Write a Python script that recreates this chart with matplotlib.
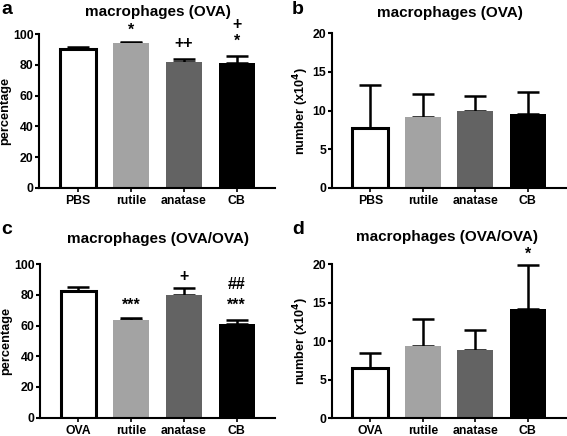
import matplotlib
matplotlib.use('Agg')
import matplotlib.pyplot as plt

plt.rcParams['font.family'] = ['Liberation Sans', 'DejaVu Sans']
plt.rcParams['font.weight'] = 'bold'
plt.rcParams['mathtext.default'] = 'bf'

# data
groups_ab = ['PBS', 'rutile', 'anatase', 'CB']
groups_cd = ['OVA', 'rutile', 'anatase', 'CB']

pct_ova = [90.0, 94.0, 81.5, 81.0]
pct_ova_err = [1.7, 0.5, 2.4, 4.7]
num_ova = [7.7, 9.1, 9.9, 9.5]
num_ova_err = [5.6, 3.0, 2.0, 2.85]

pct_ovaova = [82.8, 63.7, 79.8, 61.1]
pct_ovaova_err = [2.6, 1.5, 5.0, 2.6]
num_ovaova = [6.55, 9.4, 8.9, 14.15]
num_ovaova_err = [1.95, 3.45, 2.55, 5.75]

# significance marks: (bar index, y value, text)
marks_a = [(1, 102.3, '*'), (2, 94.0, '++'), (3, 95.2, '*'), (3, 106.0, '+')]
marks_b = []
marks_c = [(1, 73.5, '***'), (2, 91.7, '+'), (3, 86.5, '##'), (3, 73.5, '***')]
marks_d = [(3, 21.3, '*')]

colors = ['white', '#a3a3a3', '#636363', 'black']
edges = ['black', '#a3a3a3', '#636363', 'black']

fig = plt.figure(figsize=(5.67, 4.36), dpi=100)


def panel(rect, labels, vals, errs, ymax, ystep, ylabel, title, letter, marks, title_xy, letter_xy):
    ax = fig.add_axes(rect)
    x = range(len(vals))
    bars = ax.bar(x, vals, width=0.68, color=colors, edgecolor=edges, linewidth=0, zorder=2)
    bars[0].set_linewidth(2.2)
    ax.errorbar(x, vals, yerr=[[0] * 4, errs], fmt='none', ecolor='black',
                elinewidth=1.8, capsize=8, capthick=1.8, zorder=1)
    ax.set_xlim(-0.73, 3.72)
    ax.set_ylim(0, ymax)
    ax.set_yticks(range(0, ymax + 1, ystep))
    ax.set_xticks(list(x))
    ax.set_xticklabels(labels, fontsize=8.8, fontweight='bold')
    for t in ax.get_yticklabels():
        t.set_fontsize(8.8)
        t.set_fontweight('bold')
    ax.set_ylabel(ylabel, fontsize=9.2, fontweight='bold', labelpad=1)
    ax.spines['top'].set_visible(False)
    ax.spines['right'].set_visible(False)
    ax.spines['left'].set_linewidth(1.5)
    ax.spines['bottom'].set_linewidth(1.5)
    ax.tick_params(axis='y', length=3, width=1.5, pad=1)
    ax.tick_params(axis='x', length=3, width=1.2, pad=2)
    for i, yv, txt in marks:
        ax.text(i, yv, txt, ha='center', va='center', fontsize=11.5, fontweight='bold', clip_on=False)
    fig.text(title_xy[0], title_xy[1], title, ha='center', va='center', fontsize=11, fontweight='bold')
    fig.text(letter_xy[0], letter_xy[1], letter, ha='left', va='center', fontsize=14, fontweight='bold')
    return ax


panel([0.069, 0.569, 0.416, 0.353], groups_ab, pct_ova, pct_ova_err, 100, 20, 'percentage',
      'macrophages (OVA)', 'a', marks_a, (158 / 567, 1 - 12 / 436), (1 / 567, 1 - 10 / 436))
panel([0.5855, 0.5695, 0.412, 0.354], groups_ab, num_ova, num_ova_err, 20, 5, r'number (x10$^4$)',
      'macrophages (OVA)', 'b', marks_b, (450 / 567, 1 - 13 / 436), (292 / 567, 1 - 10 / 436))
panel([0.0705, 0.042, 0.414, 0.352], groups_cd, pct_ovaova, pct_ovaova_err, 100, 20, 'percentage',
      'macrophages (OVA/OVA)', 'c', marks_c, (158 / 567, 1 - 239 / 436), (1 / 567, 1 - 230 / 436))
panel([0.5855, 0.0406, 0.412, 0.3534], groups_cd, num_ovaova, num_ovaova_err, 20, 5, r'number (x10$^4$)',
      'macrophages (OVA/OVA)', 'd', marks_d, (447 / 567, 1 - 237 / 436), (292 / 567, 1 - 230 / 436))

fig.savefig('out.png', dpi=100)
